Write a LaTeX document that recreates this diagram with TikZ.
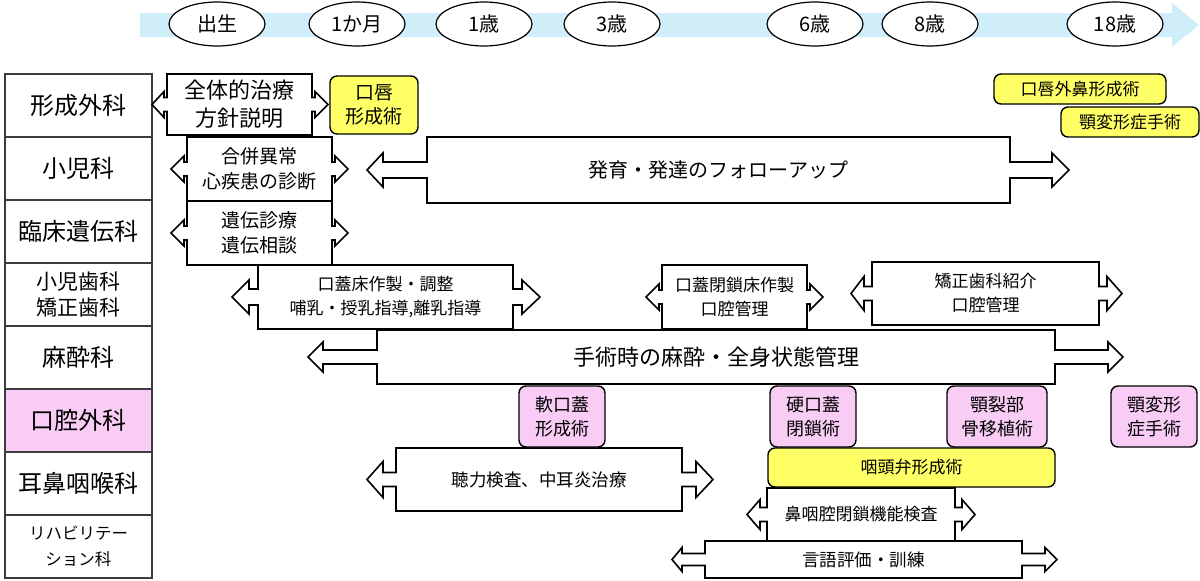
\documentclass[tikz,border=0pt]{standalone}
\usepackage{fontspec}
\setmainfont{Noto Sans CJK JP}
\usepackage{tikz}
\usetikzlibrary{positioning, calc, shapes.geometric}
\usepackage{xcolor}
\definecolor{bandblue}{RGB}{208,237,250}
\definecolor{opyellow}{RGB}{255,255,102}
\definecolor{orpink}{RGB}{249,204,246}
\definecolor{framegray}{RGB}{60,60,60}

% outline of a left-right arrow callout round a node
% #1 node, #2/#3 left neck/head, #4/#5 right neck/head, #6 neck half, #7 head half
\newcommand{\lrcall}[7]{%
  \draw[calloutline] (#1.north west) -- (#1.north east)
    -- ($(#1.east)+(0,-#6)$) -- ($(#1.east)+(#4,-#6)$) -- ($(#1.east)+(#4,-#7)$)
    -- ($(#1.east)+({#4+#5},0)$)
    -- ($(#1.east)+(#4,#7)$) -- ($(#1.east)+(#4,#6)$) -- ($(#1.east)+(0,#6)$)
    -- (#1.south east) -- (#1.south west)
    -- ($(#1.west)+(0,#6)$) -- ($(#1.west)+(-#2,#6)$) -- ($(#1.west)+(-#2,#7)$)
    -- ($(#1.west)+({-#2-#3},0)$)
    -- ($(#1.west)+(-#2,-#7)$) -- ($(#1.west)+(-#2,-#6)$) -- ($(#1.west)+(0,-#6)$)
    -- cycle;}

\tikzset{
  dept/.style={draw=framegray, line width=1.5pt, minimum width=147pt, minimum height=63pt,
    inner sep=0pt, outer sep=0pt, align=center, font=\fontsize{24}{28}\selectfont},
  age/.style={ellipse, draw, line width=1.2pt, fill=white, minimum width=96pt,
    minimum height=44pt, inner sep=0pt, font=\fontsize{20}{24}\selectfont},
  callbox/.style={fill=white, inner sep=0pt, outer sep=0pt, align=center},
  calloutline/.style={line width=1.6pt, line join=miter},
  opbox/.style={draw, line width=1.4pt, rounded corners=7pt, fill=opyellow,
    inner sep=0pt, outer sep=0pt, align=center},
  orbox/.style={opbox, fill=orpink},
}

\begin{document}
\begin{tikzpicture}[x=1pt, y=-1pt]
  \useasboundingbox (0,0) rectangle (1200,581);

  % timeline
  \fill[bandblue] (140,13) -- (1172,13) -- (1172,3) -- (1199,25) -- (1172,47)
    -- (1172,37) -- (140,37) -- cycle;
  \node[age] (birth) at (217,24) {出生};
  \node[age] (month1) at (357,24) {1か月};
  \node[age] (year1) at (484,24) {1歳};
  \node[age] (year3) at (612,24) {3歳};
  \node[age] (year6) at (815,24) {6歳};
  \node[age] (year8) at (930,24) {8歳};
  \node[age] (year18) at (1115,24) {18歳};

  % departments
  \node[dept] (plastic) at (78.5,105.5) {形成外科};
  \node[dept, below=0pt of plastic] (pediatrics) {小児科};
  \node[dept, below=0pt of pediatrics] (genetics) {臨床遺伝科};
  \node[dept, below=0pt of genetics, font=\fontsize{21}{26}\selectfont] (dental) {小児歯科\\矯正歯科};
  \node[dept, below=0pt of dental] (anesthesia) {麻酔科};
  \node[dept, below=0pt of anesthesia, fill=orpink] (oralsurg) {口腔外科};
  \node[dept, below=0pt of oralsurg] (ent) {耳鼻咽喉科};
  \node[dept, below=0pt of ent, font=\fontsize{16.5}{26}\selectfont] (rehab) {リハビリテー\\ション科};

  % callouts
  \node[callbox, minimum width=145pt, minimum height=61pt, font=\fontsize{22}{28}\selectfont]
    (policy) at (239.5,104.5) {全体的治療\\方針説明};
  \lrcall{policy}{3}{12}{3}{13}{7}{13}
  \node[callbox, minimum width=145pt, minimum height=64pt, font=\fontsize{19}{25}\selectfont]
    (anomaly) at (259.5,169) {合併異常\\心疾患の診断};
  \lrcall{anomaly}{3}{13}{3}{13}{7}{13}
  \node[callbox, minimum width=145pt, minimum height=64pt, font=\fontsize{19}{25}\selectfont]
    (genetic) at (259.5,233) {遺伝診療\\遺伝相談};
  \lrcall{genetic}{3}{13}{3}{13}{7}{13}
  \node[callbox, minimum width=583pt, minimum height=66pt, font=\fontsize{20}{24}\selectfont]
    (followup) at (718.5,170) {発育・発達のフォローアップ};
  \lrcall{followup}{44}{16}{42}{17}{8}{17}
  \node[callbox, minimum width=255pt, minimum height=64pt, font=\fontsize{17}{24}\selectfont]
    (palateplate) at (385.5,297) {口蓋床作製・調整\\哺乳・授乳指導,離乳指導};
  \lrcall{palateplate}{9}{17}{9}{18}{8}{17}
  \node[callbox, minimum width=145pt, minimum height=64pt, font=\fontsize{17}{24}\selectfont]
    (closureplate) at (734.5,297) {口蓋閉鎖床作製\\口腔管理};
  \lrcall{closureplate}{3}{13}{3}{13}{7}{13}
  \node[callbox, minimum width=227pt, minimum height=63pt, font=\fontsize{17}{24}\selectfont]
    (orthoref) at (985.5,293.5) {矯正歯科紹介\\口腔管理};
  \lrcall{orthoref}{8}{13}{8}{15}{7}{17}
  \node[callbox, minimum width=678pt, minimum height=54pt, font=\fontsize{22}{26}\selectfont]
    (anesth) at (716,357) {手術時の麻酔・全身状態管理};
  \lrcall{anesth}{54}{15}{53}{15}{7}{15}
  \node[callbox, minimum width=286pt, minimum height=63pt, font=\fontsize{17.5}{22}\selectfont]
    (hearing) at (539,479.5) {聴力検査、中耳炎治療};
  \lrcall{hearing}{13}{16}{14}{17}{7}{18}
  \node[callbox, minimum width=188pt, minimum height=53pt, font=\fontsize{17}{22}\selectfont]
    (vpfunc) at (861,514.5) {鼻咽腔閉鎖機能検査};
  \lrcall{vpfunc}{7}{13}{7}{13}{7}{15}
  \node[callbox, minimum width=317pt, minimum height=37pt, font=\fontsize{17.5}{22}\selectfont]
    (speech) at (863.5,559.5) {言語評価・訓練};
  \lrcall{speech}{23}{10}{23}{12}{6}{12}

  % operations
  \node[opbox, minimum width=88pt, minimum height=58pt, font=\fontsize{19}{24}\selectfont]
    (lipop) at (374,105) {口唇\\形成術};
  \node[opbox, minimum width=172pt, minimum height=30pt, font=\fontsize{17}{20}\selectfont]
    (nasalop) at (1080,89) {口唇外鼻形成術};
  \node[opbox, minimum width=138pt, minimum height=30pt, font=\fontsize{17}{20}\selectfont]
    (jawop1) at (1130,122) {顎変形症手術};
  \node[orbox, minimum width=86pt, minimum height=61pt, font=\fontsize{18}{24}\selectfont]
    (softpal) at (562,416.5) {軟口蓋\\形成術};
  \node[orbox, minimum width=86pt, minimum height=61pt, font=\fontsize{18}{24}\selectfont]
    (hardpal) at (813,416.5) {硬口蓋\\閉鎖術};
  \node[orbox, minimum width=100pt, minimum height=61pt, font=\fontsize{18}{24}\selectfont]
    (bonegraft) at (997,416.5) {顎裂部\\骨移植術};
  \node[orbox, minimum width=86pt, minimum height=61pt, font=\fontsize{18}{24}\selectfont]
    (jawop2) at (1154,416.5) {顎変形\\症手術};
  \node[opbox, minimum width=287pt, minimum height=39pt, font=\fontsize{17}{20}\selectfont]
    (pharflap) at (911.5,467.5) {咽頭弁形成術};
\end{tikzpicture}
\end{document}
